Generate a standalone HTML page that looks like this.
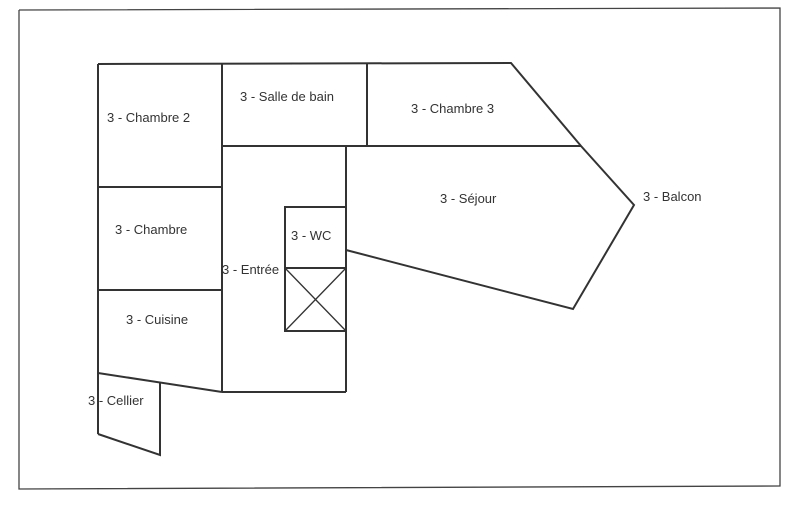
<!DOCTYPE html>
<html><head><meta charset="utf-8"><style>
html,body{margin:0;padding:0;background:#fff;}
svg{display:block;}
text{font-family:"Liberation Sans",sans-serif;font-size:13px;fill:#333;}
</style></head><body>
<svg width="800" height="521" viewBox="0 0 800 521" xmlns="http://www.w3.org/2000/svg">
<g fill="none" stroke="#444" stroke-width="1.3">
<polyline points="19,10 780,8 780,486 19,489 19,10"/>
</g>
<g fill="none" stroke="#333" stroke-width="2">
<!-- left column -->
<polyline points="98,64 511,63 581,146 634,205 573,309 346,250"/>
<line x1="98" y1="64" x2="98" y2="434"/>
<line x1="98" y1="187" x2="222" y2="187"/>
<line x1="98" y1="290" x2="222" y2="290"/>
<line x1="98" y1="373" x2="222" y2="392"/>
<line x1="222" y1="64" x2="222" y2="392"/>
<line x1="222" y1="146" x2="581" y2="146"/>
<line x1="367" y1="63" x2="367" y2="146"/>
<line x1="346" y1="146" x2="346" y2="392"/>
<line x1="222" y1="392" x2="346" y2="392"/>
<rect x="285" y="207" width="61" height="124"/>
<line x1="285" y1="268" x2="346" y2="268"/>
<line x1="285" y1="268" x2="346" y2="331" stroke-width="1.3"/>
<line x1="346" y1="268" x2="285" y2="331" stroke-width="1.3"/>
<polyline points="98,434 160,455 160,383"/>
</g>
<text x="107" y="122">3 - Chambre 2</text>
<text x="240" y="101">3 - Salle de bain</text>
<text x="411" y="113">3 - Chambre 3</text>
<text x="115" y="234">3 - Chambre</text>
<text x="440" y="203">3 - Séjour</text>
<text x="643" y="201">3 - Balcon</text>
<text x="291" y="240">3 - WC</text>
<text x="222" y="274">3 - Entrée</text>
<text x="126" y="324">3 - Cuisine</text>
<text x="88" y="405">3 - Cellier</text>
</svg>
</body></html>
